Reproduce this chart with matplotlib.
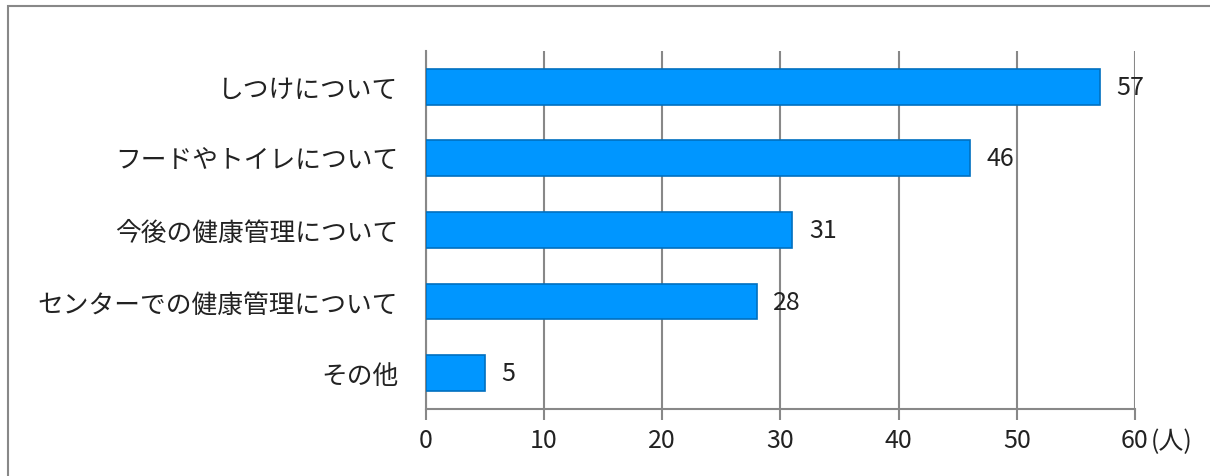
import matplotlib.pyplot as plt
from matplotlib.patches import Rectangle

plt.rcParams['font.family'] = ['Noto Sans CJK JP', 'DejaVu Sans']

categories = ['しつけについて', 'フードやトイレについて', '今後の健康管理について',
              'センターでの健康管理について', 'その他']
counts = [57, 46, 31, 28, 5]
xticks = [0, 10, 20, 30, 40, 50, 60]

fig = plt.figure(figsize=(12.1, 4.77), dpi=100)
ax = fig.add_axes([0.352, 0.1405, 0.586, 0.7505])

pos = list(range(len(categories)))
ax.barh(pos, counts, height=0.5, color='#0096FF', edgecolor='#0070C0', linewidth=1.2, zorder=3)
for y, v in zip(pos, counts):
    ax.text(v + 1.4, y, str(v), va='center', ha='left', fontsize=18, color='#222222', zorder=4)

ax.set_ylim(len(categories) - 0.5, -0.5)
ax.set_xlim(0, 60)
ax.set_xticks(xticks)
ax.set_xticklabels([str(t) for t in xticks], fontsize=18, color='#222222')
ax.set_yticks(pos)
ax.set_yticklabels(categories, fontsize=18.5, color='#222222')
ax.tick_params(axis='y', length=0, pad=20)
ax.tick_params(axis='x', length=8, width=1.5, color='#888888', pad=5)
ax.grid(axis='x', color='#888888', linewidth=1.5, zorder=0)
for s in ['top', 'right']:
    ax.spines[s].set_visible(False)
for s in ['left', 'bottom']:
    ax.spines[s].set_color('#888888')
    ax.spines[s].set_linewidth(1.5)
ax.text(1.022, -0.09, '(人)', transform=ax.transAxes, fontsize=18, color='#222222',
        ha='left', va='center')

fig.patches.append(Rectangle((8 / 1210, -0.1), 1.2, 1.1 - 7 / 477, transform=fig.transFigure,
                             fill=False, edgecolor='#888888', linewidth=1.5))

fig.savefig('out.png', dpi=100)
